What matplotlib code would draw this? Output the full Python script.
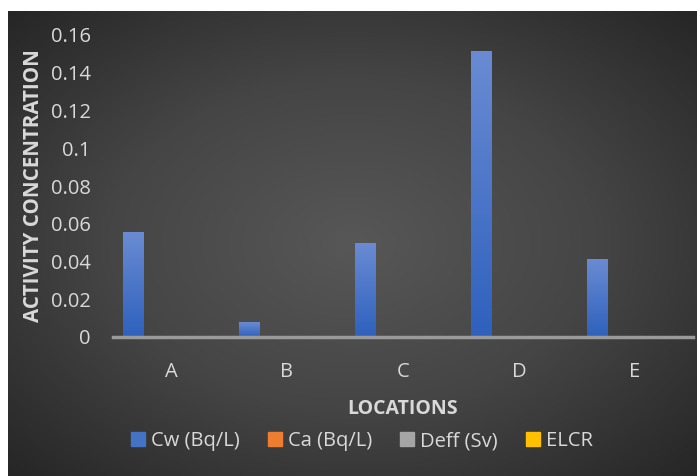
import numpy as np
import matplotlib.pyplot as plt
from matplotlib.colors import LinearSegmentedColormap

locations = ["A", "B", "C", "D", "E"]
cw = [0.0551, 0.0079, 0.0493, 0.1515, 0.0408]
ca = [0, 0, 0, 0, 0]
deff = [0, 0, 0, 0, 0]
elcr = [0, 0, 0, 0, 0]
series_names = ["Cw (Bq/L)", "Ca (Bq/L)", "Deff (Sv)", "ELCR"]
series_colors = ["#4472C4", "#ED7D31", "#A5A5A5", "#FFC000"]
yticks = [0, 0.02, 0.04, 0.06, 0.08, 0.1, 0.12, 0.14, 0.16]
ytick_labels = ["0", "0.02", "0.04", "0.06", "0.08", "0.1", "0.12", "0.14", "0.16"]

W, H = 697, 476
fig = plt.figure(figsize=(W / 100, H / 100), dpi=100, facecolor="white")
plt.rcParams["font.family"] = ["Open Sans", "DejaVu Sans"]
txt = "#d9d9d9"

# radial gradient background
bg = fig.add_axes([8 / W, 0, 1 - 8 / W, 1 - 11 / H])
yy, xx = np.mgrid[-1:1:300j, -1:1:440j]
r = np.sqrt(xx ** 2 + yy ** 2) / np.sqrt(2)
bg_cmap = LinearSegmentedColormap.from_list("bg", ["#575757", "#454545", "#262626"])
bg.imshow(r, cmap=bg_cmap, aspect="auto", extent=[0, 1, 0, 1])
bg.set_axis_off()

ax = fig.add_axes([113 / W, 1 - 337 / H, (693 - 113) / W, (337 - 35) / H])
ax.patch.set_alpha(0)

x = np.arange(len(locations))
w = 0.18
offsets = [-0.323, -0.323 + w, -0.323 + 2 * w, -0.323 + 3 * w]
grad = LinearSegmentedColormap.from_list("bar", ["#2e61bd", "#6a8bd3"])
for vals, name, col, off in zip([cw, ca, deff, elcr], series_names, series_colors, offsets):
    bars = ax.bar(x + off, vals, width=w, color=col, label=name, zorder=3)
    if name == "Cw (Bq/L)":
        for b in bars:
            b.set_alpha(0)
            x0, y0 = b.get_x(), b.get_y()
            ax.imshow(np.linspace(0, 1, 100).reshape(-1, 1), cmap=grad, aspect="auto",
                      origin="lower", extent=[x0, x0 + b.get_width(), y0, y0 + b.get_height()],
                      zorder=3)

ax.set_xlim(-0.5, len(locations) - 0.5)
ax.set_ylim(0, 0.16)
ax.set_yticks(yticks)
ax.set_yticklabels(ytick_labels)
ax.set_xticks(x)
ax.set_xticklabels(locations)
ax.tick_params(length=0, colors=txt, labelsize=14.5)
ax.tick_params(axis="y", pad=16)
ax.tick_params(axis="x", pad=18)
for s in ["top", "right", "left"]:
    ax.spines[s].set_visible(False)
ax.spines["bottom"].set_color("#9a9a9a")
ax.spines["bottom"].set_linewidth(2.5)
ax.spines["bottom"].set_zorder(4)

ax.set_xlabel("LOCATIONS", color=txt, fontsize=14, fontweight="bold", labelpad=12)
ax.set_ylabel("ACTIVITY CONCENTRATION", color=txt, fontsize=14.8, fontweight="bold", labelpad=5)

handles = [plt.Rectangle((0, 0), 1, 1, color=c) for c in series_colors]
fig.legend(handles, series_names, loc="center", bbox_to_anchor=(362 / W, 1 - 441 / H),
           ncol=4, frameon=False, fontsize=14.5, labelcolor=txt, handlelength=0.7,
           handleheight=0.7, handletextpad=0.3, columnspacing=1.4)

fig.savefig("out.png", dpi=100, facecolor="white")
